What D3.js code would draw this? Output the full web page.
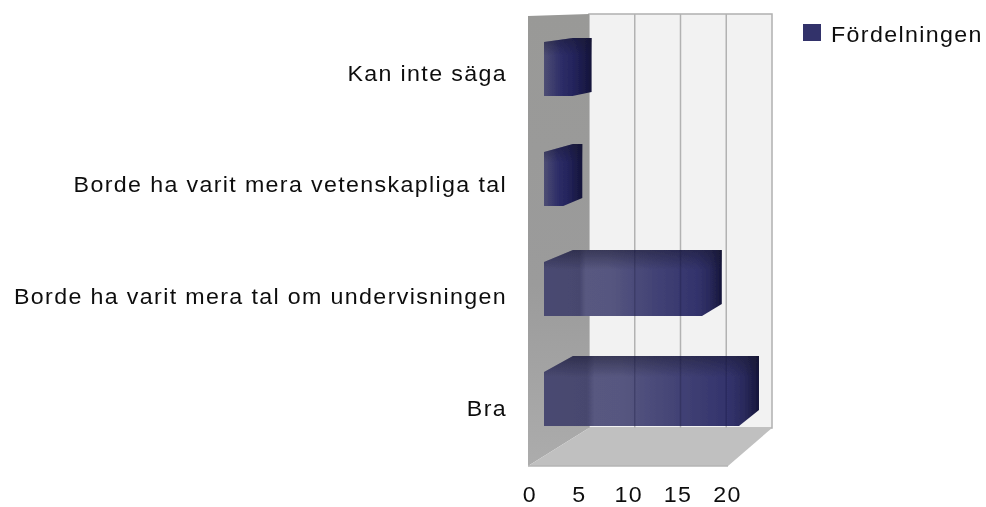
<!DOCTYPE html>
<html><head><meta charset="utf-8">
<script src="https://cdnjs.cloudflare.com/ajax/libs/d3/7.8.5/d3.min.js"></script>
<style>html,body{margin:0;background:#fff}svg{display:block}text{font-family:"Liberation Sans",Arial,sans-serif;fill:#111}</style>
</head><body><svg id="c" width="986" height="507"></svg>
<script>
const categories = ["Kan inte säga","Borde ha varit mera vetenskapliga tal","Borde ha varit mera tal om undervisningen","Bra"];
const values = [2,1,16,20];
const ticks = [0,5,10,15,20];
const seriesName = "Fördelningen";

const svg = d3.select("#c");
const defs = svg.append("defs");
defs.append("filter").attr("id","soft").attr("x","-5%").attr("y","-5%").attr("width","110%").attr("height","110%")
  .append("feGaussianBlur").attr("stdDeviation",0.55);
defs.append("filter").attr("id","softT").append("feGaussianBlur").attr("stdDeviation",0.3);

const wall = {left:528,backL:589,backR:772,frontR:728,top:14,topL:16,backB:428,frontB:466};
const xFront = d3.scaleLinear().domain([0,20]).range([554,739]);
const xBack  = d3.scaleLinear().domain([0,20]).range([573,759]);
const xGrid  = d3.scaleLinear().domain([0,20]).range([589,772]);
const xAxis  = d3.scaleLinear().domain([0,20]).range([529.5,727]);
const yFront = d3.scaleBand().domain(categories).range([42,426]).paddingInner(56/110).paddingOuter(0);
const yBack  = d3.scaleBand().domain(categories).range([38,410]).paddingInner(52/106).paddingOuter(0);
const yLabel = d3.scalePoint().domain(categories).range([73,408]);
const barLeft = 544, barLeftBack = 573;
const stretch = "scale(1.08,1)", fontSize = 21.5, spacing = 1.26;

const g = svg.append("g").attr("filter","url(#soft)");
const poly = pts => pts.map(p=>p.join(",")).join(" ");

const wg = defs.append("linearGradient").attr("id","wallG").attr("x1",0).attr("x2",0).attr("y1",0).attr("y2",1);
wg.append("stop").attr("offset",0).attr("stop-color","#999997");
wg.append("stop").attr("offset",0.6).attr("stop-color","#9b9b9b");
wg.append("stop").attr("offset",1).attr("stop-color","#acacac");

g.append("rect").attr("x",wall.backL).attr("y",wall.top).attr("width",wall.backR-wall.backL).attr("height",wall.backB-wall.top)
  .attr("fill","#f2f2f2").attr("stroke","#b0b0b0").attr("stroke-width",1.5);
g.append("polygon").attr("points",poly([[wall.left,wall.topL],[wall.backL,wall.top],[wall.backL,wall.backB],[wall.left,wall.frontB]]))
  .attr("fill","url(#wallG)");
g.append("polygon").attr("points",poly([[wall.left,wall.frontB],[wall.backL,wall.backB],[wall.backR,wall.backB],[wall.frontR,wall.frontB]]))
  .attr("fill","#c0c0c0");
g.append("line").attr("x1",wall.left).attr("x2",wall.frontR).attr("y1",wall.frontB).attr("y2",wall.frontB).attr("stroke","#b4b4b4").attr("stroke-width",1.5);
g.selectAll(".grid").data(ticks.slice(1,-1)).join("line").attr("class","grid")
  .attr("x1",d=>xGrid(d)).attr("x2",d=>xGrid(d)).attr("y1",wall.top).attr("y2",wall.backB)
  .attr("stroke","#b2b2b2").attr("stroke-width",1.5);

categories.forEach((c,i)=>{
  const x0 = barLeft, x1 = xBack(values[i]);
  const gr = defs.append("linearGradient").attr("id","bar"+i).attr("gradientUnits","userSpaceOnUse")
    .attr("x1",x0).attr("x2",x1).attr("y1",0).attr("y2",0);
  const long = values[i] > 5;
  const stops = long
    ? [[0,"#4a4a72"],[0.2,"#47476e"],[0.235,"#585880"],[0.36,"#575780"],[0.6,"#444476"],[0.86,"#33336c"],[0.93,"#2a2a5c"],[1,"#15153a"]]
    : [[0,"#4e4e74"],[0.35,"#2e2e68"],[0.62,"#24245c"],[1,"#14143a"]];
  stops.forEach(s=>gr.append("stop").attr("offset",s[0]).attr("stop-color",s[1]));
});
const shade = defs.append("linearGradient").attr("id","shade").attr("x1",0).attr("x2",0).attr("y1",0).attr("y2",1);
shade.append("stop").attr("offset",0).attr("stop-color","#1a1a30").attr("stop-opacity",0.5);
shade.append("stop").attr("offset",0.3).attr("stop-color","#1a1a30").attr("stop-opacity",0);

const data = categories.map((c,i)=>({c,v:values[i],i}));
const barPts = d => {
  const ft=yFront(d.c), fb=ft+yFront.bandwidth(), bt=yBack(d.c), bb=bt+yBack.bandwidth();
  return poly([[barLeft,ft],[barLeftBack,bt],[xBack(d.v),bt],[xBack(d.v),bb],[xFront(d.v),fb],[barLeft,fb]]);
};
g.selectAll(".bar").data(data).join("polygon").attr("class","bar")
  .attr("points",barPts).attr("fill",d=>`url(#bar${d.i})`);
g.selectAll(".barS").data(data).join("polygon").attr("class","barS")
  .attr("points",barPts).attr("fill","url(#shade)");

// gridlines showing faintly through the translucent bars
const clip = defs.append("clipPath").attr("id","barClip");
clip.selectAll("polygon").data(data).join("polygon").attr("points",barPts);
g.append("g").attr("clip-path","url(#barClip)").selectAll("line").data(ticks.slice(1,-1)).join("line")
  .attr("x1",d=>xGrid(d)).attr("x2",d=>xGrid(d)).attr("y1",wall.top).attr("y2",wall.backB)
  .attr("stroke","#14143a").attr("stroke-opacity",0.28).attr("stroke-width",1.5);

const t = svg.append("g").attr("filter","url(#softT)");
t.selectAll(".cat").data(categories).join("text").attr("class","cat")
  .attr("transform",d=>`translate(507,${yLabel(d)}) ${stretch}`).attr("dy","0.35em").attr("text-anchor","end")
  .attr("font-size",fontSize).attr("letter-spacing",spacing).text(d=>d);

const axis = svg.append("g").attr("transform","translate(0,482)").attr("filter","url(#softT)")
  .call(d3.axisBottom(xAxis).tickValues(ticks).tickSize(0).tickPadding(5));
axis.select(".domain").remove();
axis.selectAll("text").attr("font-size",fontSize).attr("letter-spacing",spacing).attr("transform",stretch)
  .style("font-family",'"Liberation Sans",Arial,sans-serif').attr("fill","#111");

const lg = svg.append("g");
lg.append("rect").attr("x",803).attr("y",24).attr("width",18).attr("height",17).attr("fill","#33336b").attr("filter","url(#softT)");
lg.append("text").attr("transform",`translate(831,42) ${stretch}`).attr("font-size",fontSize).attr("letter-spacing",spacing).attr("filter","url(#softT)").text(seriesName);
</script></body></html>
